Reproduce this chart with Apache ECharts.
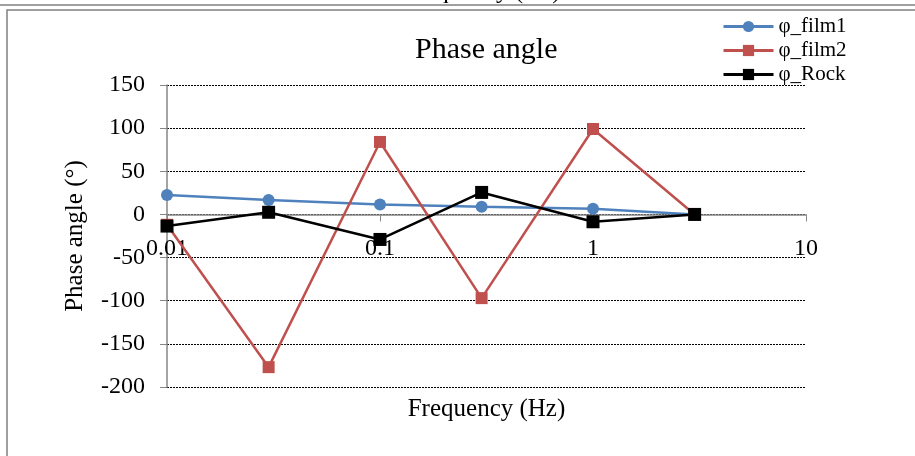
<!DOCTYPE html>
<html>
<head>
<meta charset="utf-8">
<script src="https://cdn.jsdelivr.net/npm/echarts@6/dist/echarts.min.js"></script>
<style>
html,body{margin:0;padding:0;background:#fff;}
#chart{width:915px;height:456px;}
</style>
</head>
<body>
<div id="chart"></div>
<script>
const frequencies = [0.01, 0.03, 0.1, 0.3, 1, 3];
const phiFilm1 = [22.5, 16.7, 11.5, 9, 6.5, 0];
const phiFilm2 = [-12, -177, 84, -97, 99, 0];
const phiRock = [-13.5, 2.5, -29, 25.5, -8.5, 0];
const xTickLabels = {"0.01": "0.01", "0.1": "0.1", "1": "1", "10": "10"};
const seriesNames = ["φ_film1", "φ_film2", "φ_Rock"];

const FONT = "'Liberation Serif', 'Times New Roman', serif";
const pair = arr => frequencies.map((f, i) => [f, arr[i]]);

const chart = echarts.init(document.getElementById('chart'), null, {renderer: 'canvas'});
chart.setOption({
  animation: false,
  backgroundColor: '#fff',
  title: {
    text: 'Phase angle',
    left: 410,
    top: 30,
    textStyle: {fontFamily: FONT, fontSize: 30, fontWeight: 'normal', color: '#000'}
  },
  legend: {
    orient: 'vertical',
    left: 722,
    top: 16,
    itemWidth: 50,
    itemHeight: 14,
    itemGap: 3,
    backgroundColor: '#fff',
    padding: 0,
    lineStyle: {width: 3},
    textStyle: {fontFamily: FONT, fontSize: 21, lineHeight: 21, color: '#000'},
    data: seriesNames
  },
  grid: {left: 167, right: 109, top: 85, bottom: 69, containLabel: false, outerBoundsMode: 'none'},
  xAxis: {
    type: 'log',
    logBase: 10,
    min: 0.01,
    max: 10,
    name: 'Frequency (Hz)',
    nameLocation: 'middle',
    nameGap: 10,
    nameMoveOverlap: false,
    nameTextStyle: {fontFamily: FONT, fontSize: 25, color: '#000'},
    axisLine: {onZero: true, lineStyle: {color: '#868686', width: 1.5}},
    axisTick: {show: true, inside: false, length: 7, lineStyle: {color: '#868686'}},
    minorTick: {show: false},
    splitLine: {show: false},
    axisLabel: {
      margin: -150,
      fontFamily: FONT, fontSize: 24, color: '#000',
      formatter: v => { const k = String(+v.toPrecision(3)); return xTickLabels[k] !== undefined ? xTickLabels[k] : k; }
    }
  },
  yAxis: {
    type: 'value',
    min: -200,
    max: 150,
    interval: 50,
    name: 'Phase angle (°)',
    nameLocation: 'middle',
    nameGap: 79,
    nameTextStyle: {fontFamily: FONT, fontSize: 25, color: '#000'},
    axisLine: {show: true, lineStyle: {color: '#868686', width: 1.5}},
    axisTick: {show: true, inside: false, length: 7, lineStyle: {color: '#868686'}},
    splitLine: {show: true, lineStyle: {color: '#000', type: [2, 1], width: 1}},
    axisLabel: {margin: 22, fontFamily: FONT, fontSize: 24, color: '#000'}
  },
  series: [
    {
      name: seriesNames[0], type: 'line', data: pair(phiFilm1),
      symbol: 'circle', symbolSize: 12,
      lineStyle: {color: '#4F81BD', width: 2.5},
      itemStyle: {color: '#4F81BD'}
    },
    {
      name: seriesNames[1], type: 'line', data: pair(phiFilm2),
      symbol: 'rect', symbolSize: 12,
      lineStyle: {color: '#C0504D', width: 2.5},
      itemStyle: {color: '#C0504D'}
    },
    {
      name: seriesNames[2], type: 'line', data: pair(phiRock),
      symbol: 'rect', symbolSize: 13,
      lineStyle: {color: '#000', width: 2.5},
      itemStyle: {color: '#000'}
    }
  ],
  graphic: [
    {type: 'text', left: 403, top: -21, z: 1,
     style: {text: 'Frequency (Hz)', font: '25px ' + FONT, fill: '#000'}},
    {type: 'rect', shape: {x: -10, y: -10, width: 940, height: 15}, z: 2,
     style: {fill: 'none', stroke: '#808080', lineWidth: 1.5}},
    {type: 'rect', shape: {x: 7, y: 10, width: 930, height: 470}, z: 2,
     style: {fill: 'none', stroke: '#808080', lineWidth: 1.5}}
  ]
});
</script>
</body>
</html>
